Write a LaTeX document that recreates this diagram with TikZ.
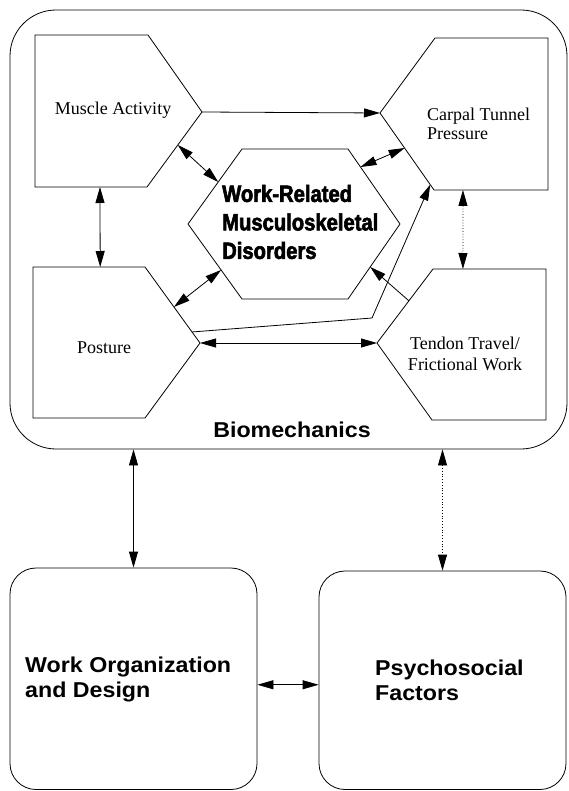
\documentclass[tikz,border=0pt]{standalone}
\usepackage{fontspec}
\setmainfont{Liberation Serif}
\newfontfamily\headfont[UprightFont=* Bold,FakeStretch=1.08]{Liberation Sans}
\newfontfamily\wmsdfont[UprightFont=* Bold,FakeStretch=0.86,FakeBold=2.5]{Liberation Sans}
\usetikzlibrary{arrows.meta,calc}

\begin{document}
\begin{tikzpicture}[x=1pt,y=1pt,yscale=-1,
  every node/.style={inner sep=0pt},
  shp/.style={draw,line width=0.8pt,line join=miter},
  bigbox/.style={draw,line width=0.8pt,rounded corners=#1},
  lbl/.style={font=\fontsize{18}{19}\selectfont,align=left},
  head/.style={font=\headfont\fontsize{21.5}{25}\selectfont,align=left},
  link/.style={line width=0.8pt,{Triangle[length=16pt,width=9pt]}-{Triangle[length=16pt,width=9pt]}},
  onelink/.style={line width=0.8pt,-{Triangle[length=16pt,width=9pt]}}]
\useasboundingbox (0,0) rectangle (568,791);

%Rounded Rect [id:bio]
\node[bigbox=46,minimum width=557,minimum height=439] (bio) at (288.5,229.5) {};
%Rounded Rect [id:wod]
\node[bigbox=26,minimum width=247,minimum height=221.5] (wod) at (133.5,678.75) {};
%Rounded Rect [id:psy]
\node[bigbox=26,minimum width=247,minimum height=218.5] (psy) at (442.5,680.25) {};

%Shape: Pentagon [id:ma]
\draw[shp] (35,35) coordinate (ma-nw) -- (148,35) coordinate (ma-ne) -- (202,112) coordinate (ma-tip)
  -- (147,187) coordinate (ma-se) -- (35,187) coordinate (ma-sw) -- cycle;
%Shape: Pentagon [id:cp]
\draw[shp] (380,113) coordinate (cp-tip) -- (435,38) coordinate (cp-nw) -- (548,38) coordinate (cp-ne)
  -- (548,190) coordinate (cp-se) -- (434,190) coordinate (cp-sw) -- cycle;
%Shape: Pentagon [id:po]
\draw[shp] (33,267) coordinate (po-nw) -- (145,267) coordinate (po-ne) -- (200,343) coordinate (po-tip)
  -- (145,418) coordinate (po-se) -- (33,418) coordinate (po-sw) -- cycle;
%Shape: Pentagon [id:td]
\draw[shp] (377,343) coordinate (td-tip) -- (433,269) coordinate (td-nw) -- (546,269) coordinate (td-ne)
  -- (546,420) coordinate (td-se) -- (432,420) coordinate (td-sw) -- cycle;
%Shape: Hexagon [id:wmsd]
\draw[shp] (242,149) coordinate (wm-nw) -- (348,149) coordinate (wm-ne) -- (400,224) coordinate (wm-e)
  -- (348,299) coordinate (wm-se) -- (242,299) coordinate (wm-sw) -- (188,224) coordinate (wm-w) -- cycle;

% Text Node
\node[lbl] (ma) at (113,110) {Muscle Activity};
% Text Node
\node[lbl,anchor=west] (cp) at (427,124) {Carpal Tunnel\\Pressure};
% Text Node
\node[lbl] (po) at (104,348) {Posture};
% Text Node
\node[lbl,align=center,font=\fontsize{18}{21.5}\selectfont] (td) at (465,354) {Tendon Travel/\\Frictional Work};
% Text Node
\node[font=\wmsdfont\fontsize{23.5}{28.5}\selectfont,align=left,anchor=west] (wm) at (222,222)
  {Work-Related\\Musculoskeletal\\Disorders};
% Text Node
\node[head] (biolbl) at (292,430) {Biomechanics};
% Text Node
\node[head,anchor=west] (wodlbl) at (25,679) {Work Organization\\and Design};
% Text Node
\node[head,anchor=west] (psylbl) at (375,680) {Psychosocial\\Factors};

%Straight Lines
\draw[onelink] (ma-tip) -- (cp-tip);
\draw[link] ($(ma-tip)!0.44!(ma-se)$) -- ($(wm-nw)!0.44!(wm-w)$);
\draw[link] ($(wm-ne)!0.24!(wm-e)$) -- ($(cp-tip)!0.455!(cp-sw)$);
\draw[link] ($(po-ne)!0.526!(po-tip)$) -- ($(wm-w)!0.613!(wm-sw)$);
\draw[link] ($(ma-sw)!0.58!(ma-se)$) -- ($(po-nw)!0.6!(po-ne)$);
\draw[link,dotted] ($(cp-sw)!0.254!(cp-se)$) -- ($(td-nw)!0.265!(td-ne)$);
\draw[link] (po-tip) -- (td-tip);
\draw[onelink] ($(po-ne)!0.855!(po-tip)$) -- (372,318) -- ($(cp-tip)!0.93!(cp-sw)$);
\draw[onelink] ($(td-nw)!0.43!(td-tip)$) -- ($(wm-e)!0.573!(wm-se)$);
\draw[link] (bio.south -| wod.north) -- (wod.north);
\draw[link,dotted] (bio.south -| psy.north) -- (psy.north);
\draw[link] ([yshift=6pt]wod.east) -- ([yshift=6pt]wod.east -| psy.west);
\end{tikzpicture}
\end{document}
